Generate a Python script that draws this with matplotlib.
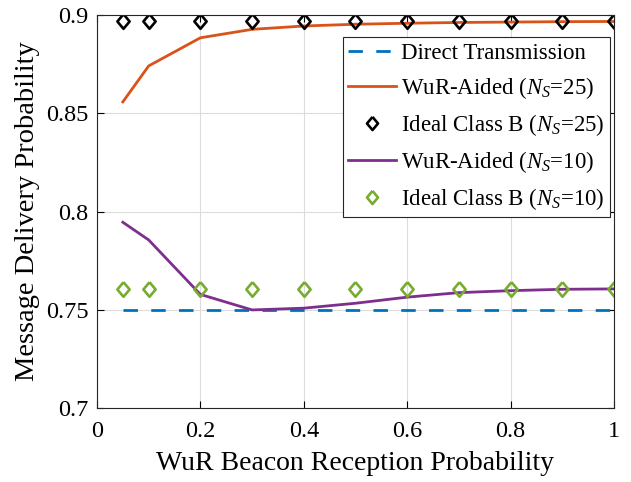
import numpy as np
import matplotlib
matplotlib.use('Agg')
import matplotlib.pyplot as plt

# ---- data ----
beacon_prob = [0.05, 0.1, 0.2, 0.3, 0.4, 0.5, 0.6, 0.7, 0.8, 0.9, 1.0]
direct_tx = [0.75] * len(beacon_prob)
wur_ns25 = [0.8558, 0.8741, 0.8884, 0.8927, 0.8944, 0.8953, 0.8958, 0.8962, 0.8964, 0.8966, 0.8967]
ideal_ns25 = [0.8967] * len(beacon_prob)
wur_ns10 = [0.7946, 0.7856, 0.7579, 0.7500, 0.7509, 0.7534, 0.7565, 0.7588, 0.7598, 0.7605, 0.7607]
ideal_ns10 = [0.7607] * len(beacon_prob)

plt.rcParams['font.family'] = 'Liberation Serif'
plt.rcParams['mathtext.fontset'] = 'custom'
plt.rcParams['mathtext.rm'] = 'Liberation Serif'
plt.rcParams['mathtext.it'] = 'Liberation Serif:italic'

# slightly tall diamond like the matlab marker in the picture
diamond = [(0, 1), (0.84, 0), (0, -1), (-0.84, 0), (0, 1)]

fig = plt.figure(figsize=(6.31, 4.82), dpi=100)
ax = fig.add_axes([0.1537, 0.1530, 0.8193, 0.8159])

lw = 2.0
ax.plot(beacon_prob, direct_tx, color='#0072BD', lw=lw, dashes=(5.2, 4.8),
        label='Direct Transmission')
ax.plot(beacon_prob, wur_ns25, color='#D95319', lw=lw,
        label=r'WuR-Aided ($N_S$=25)')
ax.plot(beacon_prob, ideal_ns25, ls='none', marker=diamond, ms=10.5, mfc='none',
        mec='black', mew=1.9, label=r'Ideal Class B ($N_S$=25)')
ax.plot(beacon_prob, wur_ns10, color='#7E2F8E', lw=lw,
        label=r'WuR-Aided ($N_S$=10)')
ax.plot(beacon_prob, ideal_ns10, ls='none', marker=diamond, ms=10.5, mfc='none',
        mec='#77AC30', mew=1.9, label=r'Ideal Class B ($N_S$=10)')

ax.set_xlim(0, 1)
ax.set_ylim(0.7, 0.9)
ax.set_xticks([0, 0.2, 0.4, 0.6, 0.8, 1])
ax.set_xticklabels(['0', '0.2', '0.4', '0.6', '0.8', '1'])
ax.set_yticks([0.7, 0.75, 0.8, 0.85, 0.9])
ax.set_yticklabels(['0.7', '0.75', '0.8', '0.85', '0.9'])
ax.tick_params(direction='in', top=True, right=True, length=5, width=0.8,
               labelsize=17.5)
ax.tick_params(axis='x', pad=9)
ax.tick_params(axis='y', pad=6)
ax.grid(True, color='#dcdcdc', lw=0.8)
ax.set_axisbelow(True)
for s in ax.spines.values():
    s.set_color('#262626')
    s.set_linewidth(0.8)

ax.set_xlabel('WuR Beacon Reception Probability', fontsize=20, labelpad=7)
ax.set_ylabel('Message Delivery Probability', fontsize=20.5, labelpad=4)

leg = ax.legend(loc='upper right', bbox_to_anchor=(0.993, 0.944),
                borderaxespad=0, fontsize=16.5, fancybox=False,
                edgecolor='#262626', framealpha=1, handlelength=2.1,
                handletextpad=0.2, labelspacing=0.48, borderpad=0.25,
                markerscale=0.9)
leg.get_frame().set_linewidth(0.8)

fig.savefig('out.png', dpi=100)
